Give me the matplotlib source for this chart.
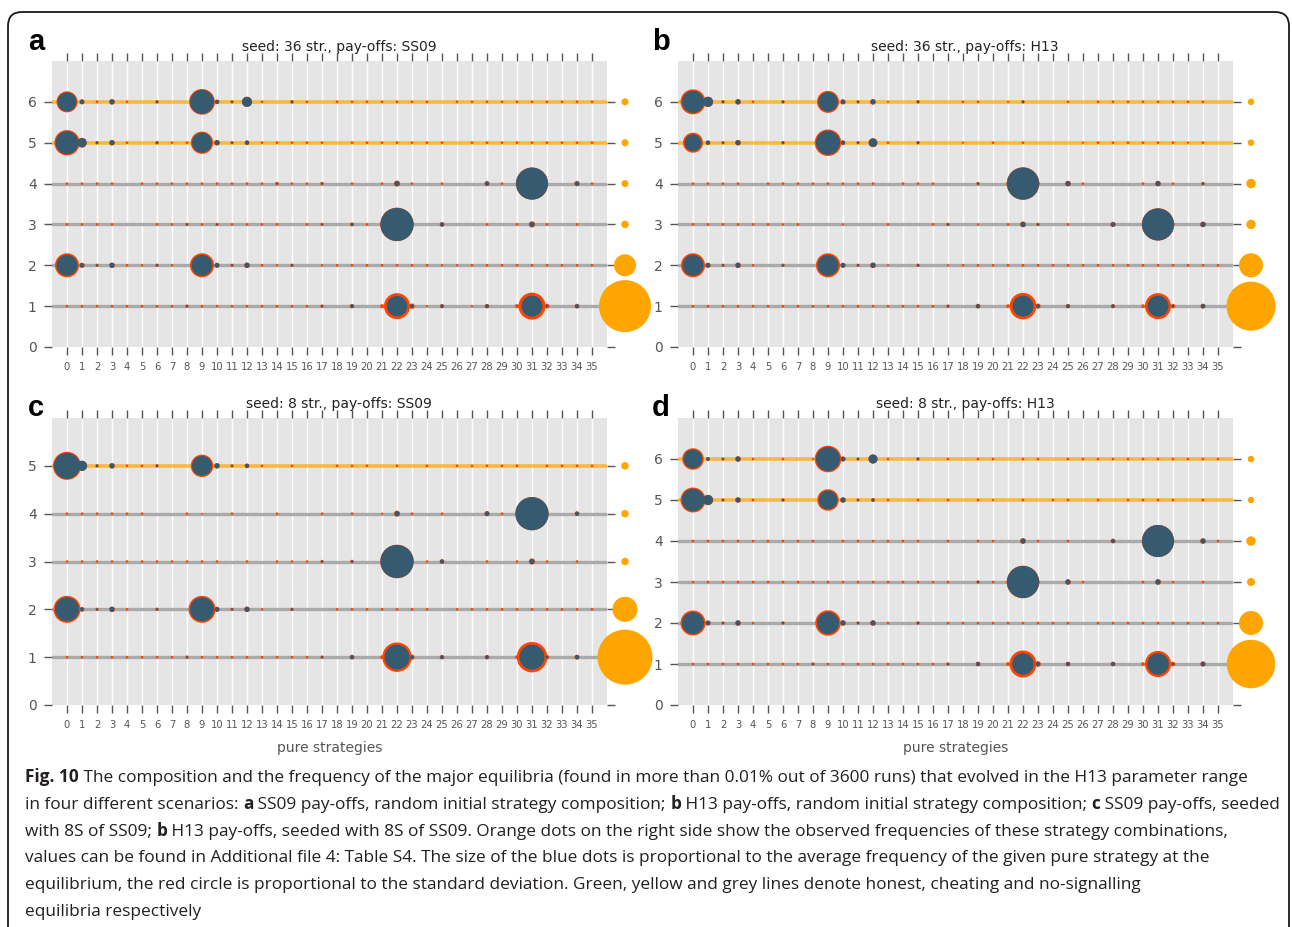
import matplotlib
matplotlib.use("Agg")
import matplotlib.pyplot as plt
from matplotlib.patches import FancyBboxPatch
from matplotlib.transforms import IdentityTransform

W, H = 1292, 927
strategies = list(range(36))

# values per row, rows listed from y=1 upwards
# mean = average frequency of the pure strategy (per mille), sd = standard deviation (per mille)
# freq = observed frequency of the equilibrium (orange dots on the right)

# ---- a: seed 36 str., pay-offs SS09
a_title = "seed: 36 str., pay-offs: SS09"
a_kinds = ["none", "none", "none", "none", "cheat", "cheat"]
a_freq = [0.751, 0.134, 0.0156, 0.0136, 0.0136, 0.0136]
a_mean = [
    [0,0,0,0,0,0,0,0,4,0, 0,0,0,0,0,0,0,4,0,12, 0,0,364,12,0,10,0,0,12,0, 0,380,6,0,14,0],
    [380,18,4,22,0,0,5,0,0,380, 18,4,22,0,0,5,0,0,0,0, 0,0,0,0,0,0,0,0,0,0, 0,0,0,0,0,0],
    [0,0,0,0,0,0,0,0,3,0, 3,0,0,0,0,0,0,3,0,8, 0,0,950,0,0,14,0,0,0,0, 0,22,0,0,0,0],
    [0,0,0,0,0,0,0,0,0,0, 0,0,0,0,3,0,0,3,0,0, 0,0,22,0,0,0,0,0,16,0, 0,886,0,0,18,0],
    [458,75,5,22,0,0,5,0,0,346, 22,4,14,0,0,0,0,0,0,0, 0,0,0,0,0,0,0,0,0,0, 0,0,0,0,0,0],
    [312,18,0,22,0,0,5,0,0,498, 14,4,87,0,0,6,0,0,0,0, 0,0,0,0,0,0,0,0,0,0, 0,0,0,0,0,0],
]
a_sd = [
    [6,6,6,6,6,6,6,6,6,6, 6,6,6,6,6,6,6,6,0,6, 0,14,220,14,4,6,0,4,6,0, 14,250,14,0,6,0],
    [120,6,5,6,6,5,5,5,0,120, 6,5,6,6,5,5,0,5,6,6, 6,6,6,6,6,5,5,6,6,6, 6,6,6,6,6,6],
    [6,6,6,6,0,0,6,6,6,6, 6,6,6,6,6,0,6,6,0,6, 6,6,20,10,0,6,0,0,6,0, 6,12,6,0,6,0],
    [6,6,6,6,0,6,6,6,6,6, 6,6,6,6,8,6,6,8,0,6, 0,6,10,6,0,6,0,0,6,6, 0,10,0,0,6,6],
    [96,6,5,6,6,0,5,6,6,84, 6,5,6,6,6,6,6,6,0,6, 6,6,6,6,6,6,0,6,6,6, 6,6,6,6,6,6],
    [69,5,6,6,6,0,5,0,0,73, 5,5,3,6,0,5,6,0,6,6, 6,6,6,6,6,0,6,6,6,6, 6,6,6,6,6,6],
]

# ---- b: seed 36 str., pay-offs H13
b_title = "seed: 36 str., pay-offs: H13"
b_kinds = ["none", "none", "none", "none", "cheat", "cheat"]
b_freq = [0.667, 0.16, 0.025, 0.025, 0.0117, 0.0117]
b_mean = [
    [0,0,0,0,0,0,0,0,0,0, 0,0,0,0,0,0,0,4,0,14, 0,0,380,12,0,12,0,0,10,0, 0,380,6,0,16,0],
    [380,18,4,22,0,0,5,0,0,380, 18,4,22,0,0,5,0,0,0,0, 0,0,0,0,0,0,0,0,0,0, 0,0,0,0,0,0],
    [0,0,0,0,0,0,0,0,0,0, 0,0,0,0,0,0,0,4,0,0, 0,0,22,4,0,0,0,0,18,0, 0,886,0,0,22,0],
    [0,0,0,0,0,0,0,0,0,0, 0,0,0,0,0,0,0,0,0,4, 0,0,890,0,0,22,0,0,0,0, 0,22,0,0,5,0],
    [250,14,4,22,0,0,5,0,0,500, 14,4,62,0,0,5,0,0,0,0, 0,0,0,0,0,0,0,0,0,0, 0,0,0,0,0,0],
    [420,87,5,22,0,0,5,0,0,330, 18,4,22,0,0,5,0,0,0,0, 0,0,5,0,0,0,0,0,0,0, 0,0,0,0,0,0],
]
b_sd = [
    [6,6,6,6,6,6,6,6,6,6, 6,6,6,6,6,6,6,6,0,6, 0,12,230,12,0,6,0,0,6,0, 12,205,12,0,6,0],
    [120,6,5,6,6,0,5,0,0,120, 6,5,6,4,0,5,0,4,6,6, 6,6,6,6,6,6,6,6,6,6, 6,6,6,6,6,6],
    [6,6,6,6,6,6,4,6,0,0, 4,0,0,6,0,0,6,6,0,4, 0,6,8,6,0,6,0,0,6,0, 4,20,10,0,6,0],
    [6,6,6,6,0,6,6,6,6,6, 6,6,6,0,6,6,6,0,0,6, 0,12,30,12,0,6,6,0,0,0, 6,6,6,0,6,0],
    [96,6,5,6,0,0,5,0,0,107, 6,5,10,6,0,5,0,0,4,0, 6,0,6,0,0,0,4,6,6,6, 6,6,6,4,6,0],
    [120,6,5,6,6,0,5,0,0,90, 6,5,6,4,0,5,0,0,6,6, 0,4,5,0,0,6,0,6,6,6, 6,6,6,6,6,0],
]

# ---- c: seed 8 str., pay-offs SS09
c_title = "seed: 8 str., pay-offs: SS09"
c_kinds = ["none", "none", "none", "none", "cheat"]
c_freq = [0.84, 0.174, 0.0156, 0.0156, 0.0156]
c_mean = [
    [0,0,0,0,0,0,0,0,4,0, 0,0,0,0,0,0,0,4,0,14, 0,0,540,12,0,12,0,0,12,0, 0,540,6,0,16,0],
    [500,14,4,22,0,0,5,0,0,500, 18,4,22,0,0,5,0,0,0,0, 0,0,0,0,0,0,0,0,0,0, 0,0,0,0,0,0],
    [0,0,0,0,0,0,0,0,0,0, 0,0,0,0,0,0,0,4,0,5, 0,0,950,0,0,14,0,0,0,0, 0,22,0,0,0,0],
    [0,0,0,0,0,0,0,0,0,0, 0,0,0,0,0,0,0,0,0,0, 0,0,22,0,0,0,0,0,18,0, 0,950,0,0,14,0],
    [585,87,5,22,0,0,5,0,0,346, 22,4,14,0,0,0,0,0,0,0, 0,0,0,0,0,0,0,0,0,0, 0,0,0,0,0,0],
]
c_sd = [
    [6,6,6,6,6,6,6,6,6,6, 6,6,6,6,6,6,6,6,0,6, 0,12,210,12,0,6,0,0,6,0, 12,260,12,0,6,0],
    [130,6,5,6,6,0,5,0,0,130, 6,5,6,5,0,5,0,0,6,6, 6,6,6,6,6,0,6,6,6,6, 6,6,6,6,6,6],
    [6,6,6,6,6,6,6,6,6,6, 6,0,6,0,6,6,6,6,0,6, 0,0,20,6,6,6,0,0,6,0, 6,12,6,0,6,0],
    [6,6,6,6,6,6,0,0,6,3, 0,6,0,0,6,0,0,6,0,6, 0,4,10,6,0,6,0,0,6,6, 0,10,0,0,6,0],
    [95,6,5,6,6,6,5,0,0,90, 6,5,6,6,0,6,0,0,6,6, 6,0,6,0,6,0,6,6,6,6, 6,0,6,6,6,6],
]

# ---- d: seed 8 str., pay-offs H13
d_title = "seed: 8 str., pay-offs: H13"
d_kinds = ["none", "none", "none", "none", "cheat", "cheat"]
d_freq = [0.653, 0.16, 0.018, 0.025, 0.0117, 0.0117]
d_mean = [
    [0,0,0,0,0,0,0,0,4,0, 0,0,0,0,0,0,0,4,0,14, 0,0,400,16,0,14,0,0,14,0, 0,400,6,0,18,0],
    [420,18,4,22,0,0,5,0,0,420, 22,4,22,0,0,5,0,0,0,0, 0,0,0,0,0,0,0,0,0,0, 0,0,0,0,0,0],
    [0,0,0,0,0,0,0,0,0,0, 0,0,0,0,0,0,0,0,0,4, 0,0,890,0,0,22,0,0,0,0, 0,22,0,0,0,0],
    [0,0,0,0,0,0,0,0,0,0, 0,0,0,0,0,0,0,0,0,0, 0,0,22,0,0,0,0,0,14,0, 0,886,0,0,22,0],
    [440,87,4,22,0,0,5,0,0,310, 22,3,8,0,0,0,0,0,0,0, 0,0,0,0,0,0,0,0,0,0, 0,0,0,0,0,0],
    [310,10,4,22,0,0,0,0,0,500, 18,4,70,0,0,5,0,0,0,0, 0,0,0,0,0,0,0,0,0,0, 0,0,0,0,0,0],
]
d_sd = [
    [6,6,6,6,6,6,6,6,6,6, 6,6,6,6,6,6,6,6,0,6, 0,12,230,12,0,6,0,0,6,0, 12,190,12,0,6,0],
    [120,6,5,6,6,0,5,0,0,140, 6,5,6,6,0,5,0,6,6,6, 6,6,6,6,6,6,0,6,6,6, 6,6,6,6,6,6],
    [6,6,6,6,6,6,6,6,6,6, 6,6,6,6,6,6,6,6,0,6, 6,12,30,12,0,6,6,0,0,0, 6,8,6,0,6,0],
    [6,6,6,6,6,6,6,6,6,0, 6,6,6,6,6,6,0,6,0,6, 6,0,8,6,0,6,0,0,6,0, 0,10,8,0,6,6],
    [100,6,5,6,6,0,5,0,0,90, 6,5,5,6,0,6,0,6,0,6, 4,0,6,0,6,6,0,6,0,6, 6,6,6,0,6,0],
    [90,5,5,6,6,0,6,0,4,110, 6,5,3,6,0,5,0,6,0,6, 6,0,6,6,0,6,6,6,6,6, 6,6,6,6,6,6],
]

caption_lines = [
    [("Fig. 10", True), (" The composition and the frequency of the major equilibria (found in more than 0.01% out of 3600 runs) that evolved in the H13 parameter range", False)],
    [("in four different scenarios: ", False), ("a", True), (" SS09 pay-offs, random initial strategy composition; ", False), ("b", True),
     (" H13 pay-offs, random initial strategy composition; ", False), ("c", True), (" SS09 pay-offs, seeded", False)],
    [("with 8S of SS09; ", False), ("b", True), (" H13 pay-offs, seeded with 8S of SS09. Orange dots on the right side show the observed frequencies of these strategy combinations,", False)],
    [("values can be found in Additional file 4: Table S4. The size of the blue dots is proportional to the average frequency of the given pure strategy at the", False)],
    [("equilibrium, the red circle is proportional to the standard deviation. Green, yellow and grey lines denote honest, cheating and no-signalling", False)],
    [("equilibria respectively", False)],
]

BLUE = "#365a70"
RED = "#ff4500"
ORANGE = "#ffa500"
BLUE_S = (34 * 0.72) ** 2     # marker area for frequency 1.0
ORANGE_S = (60 * 0.72) ** 2
TICK_GREY = "#555555"

fig = plt.figure(figsize=(W / 100, H / 100), dpi=100)

# frame around the figure
frame = FancyBboxPatch((8, -120), W - 11, H - 12 + 120, boxstyle="round,pad=0,rounding_size=14",
                       transform=IdentityTransform(), fill=False, edgecolor="#1a1a1a", linewidth=1.3)
fig.add_artist(frame)


def panel(rect, letter, letter_xy, title, kinds, freq, mean, sd, xlabel=False):
    ax = fig.add_axes([rect[0] / W, 1 - rect[3] / H, (rect[2] - rect[0]) / W, (rect[3] - rect[1]) / H])
    n = len(kinds)
    ax.set_facecolor("#e5e5e5")
    for sp in ax.spines.values():
        sp.set_visible(False)
    ax.set_xlim(-1, 36)
    ax.set_ylim(0, n + 1)
    ax.set_xticks(strategies)
    ax.set_yticks(range(n + 1))
    ax.grid(axis="x", color="white", linewidth=1)
    ax.set_axisbelow(True)
    ax.tick_params(axis="both", direction="out", length=6, width=1, color=TICK_GREY,
                   top=True, right=True, labelcolor=TICK_GREY)
    ax.tick_params(axis="x", labelsize=7.2, pad=5)
    ax.tick_params(axis="y", labelsize=10, pad=5)

    for i, kind in enumerate(kinds):
        y = i + 1
        if kind == "cheat":
            ax.axhline(y, color=ORANGE, alpha=0.7, linewidth=2.6, zorder=1.5)
        else:
            ax.axhline(y, color="#aaaaaa", linewidth=2.4, zorder=1.5)
        m = mean[i]
        s = sd[i]
        ax.scatter(strategies, [y] * 36, s=[(mm + ss) / 1000 * BLUE_S for mm, ss in zip(m, s)],
                   color=RED, linewidths=0, zorder=2)
        ax.scatter(strategies, [y] * 36, s=[mm / 1000 * BLUE_S for mm in m],
                   color=BLUE, linewidths=0, zorder=3)
    ax.scatter([37.2] * n, range(1, n + 1), s=[f * ORANGE_S for f in freq],
               color=ORANGE, linewidths=0, clip_on=False, zorder=5)

    ax.text(0.517, 1 + 9.5 / (rect[3] - rect[1]), title, transform=ax.transAxes,
            ha="center", va="baseline", fontsize=10, color="#222222")
    fig.text(letter_xy[0] / W, 1 - letter_xy[1] / H, letter, fontsize=21, weight="bold",
             family="Liberation Sans", va="baseline", ha="left")
    if xlabel:
        ax.set_xlabel("pure strategies", fontsize=10, color=TICK_GREY, labelpad=8)
    return ax


panel((52, 61, 607, 347), "a", (28, 50), a_title, a_kinds, a_freq, a_mean, a_sd)
panel((678, 61, 1233, 347), "b", (652, 50), b_title, b_kinds, b_freq, b_mean, b_sd)
panel((52, 418, 607, 705), "c", (28, 416), c_title, c_kinds, c_freq, c_mean, c_sd, xlabel=True)
panel((678, 418, 1233, 705), "d", (652, 416), d_title, d_kinds, d_freq, d_mean, d_sd, xlabel=True)

# caption with mixed bold / regular pieces
CAP_FS = 12.4
CAP_FAMILY = "Open Sans"
renderer = fig.canvas.get_renderer()


def text_width(s, bold):
    w = []
    for txt in ("|" + s + "|", "||"):
        t = fig.text(0, 0, txt, fontsize=CAP_FS, family=CAP_FAMILY, weight="bold" if bold else "normal")
        w.append(t.get_window_extent(renderer).width)
        t.remove()
    return w[0] - w[1]


for li, pieces in enumerate(caption_lines):
    x = 25
    y = 782 + li * 26.8
    for s, bold in pieces:
        fig.text(x / W, 1 - y / H, s, fontsize=CAP_FS, family=CAP_FAMILY,
                 weight="bold" if bold else "normal", color="#231f20", va="baseline", ha="left")
        x += text_width(s, bold)

fig.savefig("out.png", dpi=100)
